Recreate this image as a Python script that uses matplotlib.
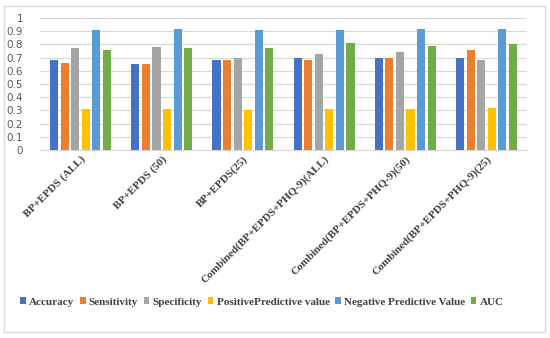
import matplotlib
matplotlib.use("Agg")
import matplotlib.pyplot as plt
import numpy as np
from matplotlib.patches import Rectangle

categories = ["BP+EPDS (ALL)", "BP+EPDS (50)", "BP+EPDS(25)",
              "Combined(BP+EPDS+PHQ-9)(ALL)", "Combined(BP+EPDS+PHQ-9)(50)",
              "Combined(BP+EPDS+PHQ-9)(25)"]
series_names = ["Accuracy", "Sensitivity", "Specificity",
                "PositivePredictive value", "Negative Predictive Value", "AUC"]
accuracy = [0.68, 0.65, 0.68, 0.70, 0.70, 0.70]
sensitivity = [0.66, 0.65, 0.68, 0.68, 0.70, 0.76]
specificity = [0.77, 0.78, 0.70, 0.73, 0.74, 0.68]
ppv = [0.31, 0.31, 0.30, 0.31, 0.31, 0.32]
npv = [0.91, 0.92, 0.91, 0.91, 0.92, 0.92]
auc = [0.76, 0.77, 0.77, 0.81, 0.79, 0.80]
series = [accuracy, sensitivity, specificity, ppv, npv, auc]
colors = ["#4472C4", "#ED7D31", "#A5A5A5", "#FFC000", "#5B9BD5", "#70AD47"]
yticks = [0, 0.1, 0.2, 0.3, 0.4, 0.5, 0.6, 0.7, 0.8, 0.9, 1]
ytick_labels = ["0", "0.1", "0.2", "0.3", "0.4", "0.5", "0.6", "0.7", "0.8", "0.9", "1"]

fig = plt.figure(figsize=(5.5, 3.38), dpi=100)
fig.patches.append(Rectangle((4/550, 6/338), 541/550, 326/338, transform=fig.transFigure,
                             fill=False, edgecolor="#d9d9d9", linewidth=1.0))
ax = fig.add_axes([40/550, 1-150/338, 487/550, 132/338])

x = np.arange(len(categories))
width = 0.10
step = 0.13
for i, (vals, c, name) in enumerate(zip(series, colors, series_names)):
    ax.bar(x + (i - 2.5) * step, vals, width=width, color=c, label=name, zorder=3)

ax.set_xlim(-0.5, len(categories) - 0.5)
ax.set_ylim(0, 1)
ax.set_yticks(yticks)
ax.set_yticklabels(ytick_labels, fontsize=7.5, color="#595959")
ax.yaxis.grid(True, color="#d9d9d9", linewidth=0.8, zorder=0)
ax.tick_params(axis="y", length=0, pad=12)
ax.tick_params(axis="x", length=0, pad=3)
for s in ["top", "right", "left"]:
    ax.spines[s].set_visible(False)
ax.spines["bottom"].set_color("#d9d9d9")
ax.set_xticks(x)
ax.set_xticklabels(categories, rotation=45, ha="right", va="top", rotation_mode="anchor",
                   fontsize=8, fontweight="bold", family="Liberation Serif", color="#404040")

leg = fig.legend(loc="center", bbox_to_anchor=(262/550, 1-302/338), ncol=6, frameon=False,
                 prop={"family": "Liberation Serif", "weight": "bold", "size": 8},
                 handlelength=0.5, handleheight=0.5, handletextpad=0.3, columnspacing=0.5)
for t in leg.get_texts():
    t.set_color("#404040")

fig.savefig("out.png", dpi=100)
